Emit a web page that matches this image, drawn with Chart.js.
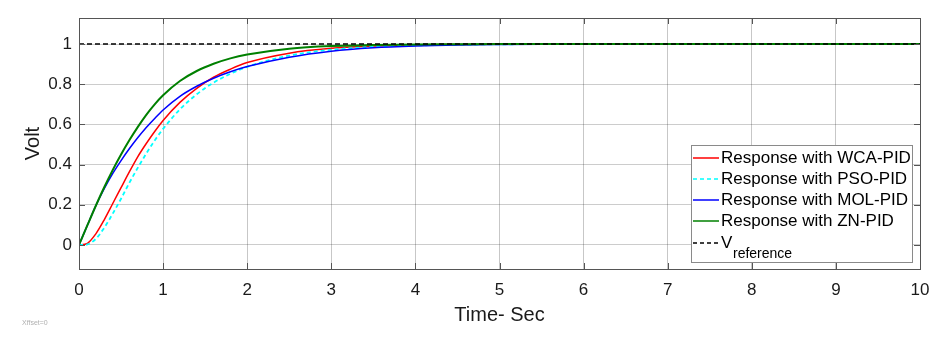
<!DOCTYPE html>
<html>
<head>
<meta charset="utf-8">
<script src="https://cdn.jsdelivr.net/npm/chart.js@4/dist/chart.umd.min.js"></script>
<style>
  html, body { margin: 0; padding: 0; background: #fff; }
  #mycanvas { display: block; }
</style>
</head>
<body>
<canvas id="mycanvas" width="945" height="337"></canvas>
<script>
// values
var timeSec = [0, 0.1, 0.2, 0.3, 0.4, 0.5, 0.6, 0.7, 0.8, 0.9, 1.0, 1.2, 1.4, 1.6, 1.8, 2.0, 2.5, 3.0, 3.5, 4.0, 4.5, 5, 6, 7, 8, 9, 10];
var wcaPid = [0, 0.008, 0.055, 0.125, 0.205, 0.285, 0.365, 0.44, 0.505, 0.565, 0.62, 0.71, 0.78, 0.835, 0.875, 0.908, 0.955, 0.979, 0.99, 0.996, 0.998, 1, 1, 1, 1, 1, 1];
var psoPid = [0, 0.003, 0.03, 0.085, 0.155, 0.23, 0.31, 0.385, 0.455, 0.52, 0.578, 0.675, 0.75, 0.808, 0.852, 0.887, 0.943, 0.972, 0.986, 0.993, 0.997, 0.999, 1, 1, 1, 1, 1];
var molPid = [0, 0.098, 0.195, 0.28, 0.355, 0.42, 0.48, 0.535, 0.585, 0.63, 0.672, 0.74, 0.79, 0.83, 0.862, 0.888, 0.935, 0.965, 0.982, 0.991, 0.996, 0.998, 1, 1, 1, 1, 1];
var znPid = [0, 0.098, 0.195, 0.287, 0.372, 0.45, 0.522, 0.588, 0.648, 0.7, 0.745, 0.816, 0.866, 0.902, 0.929, 0.948, 0.977, 0.99, 0.995, 0.998, 0.999, 1, 1, 1, 1, 1, 1];
var refTime = [0, 10];
var refVolt = [1, 1];

var xTicks = [0, 1, 2, 3, 4, 5, 6, 7, 8, 9, 10];
var yTicks = [0, 0.2, 0.4, 0.6, 0.8, 1];

var seriesLabels = ['Response with WCA-PID', 'Response with PSO-PID', 'Response with MOL-PID', 'Response with ZN-PID'];

function toPoints(xs, ys) {
  return xs.map(function (x, i) { return { x: x, y: ys[i] }; });
}

var FONT = '"Liberation Sans", Arial, sans-serif';

// MATLAB-ish box, inward ticks, legend and the little offset note
var boxPlugin = {
  id: 'boxPlugin',
  afterDraw: function (chart) {
    var ctx = chart.ctx;
    var a = chart.chartArea;
    var xs = chart.scales.x, ys = chart.scales.y;

    // legend
    var lx = 691, ly = 145, lw = 221, lh = 117;
    ctx.save();
    ctx.fillStyle = '#fff';
    ctx.fillRect(lx, ly, lw, lh);
    ctx.strokeStyle = '#8a8a8a';
    ctx.lineWidth = 1;
    ctx.strokeRect(lx + 0.5, ly + 0.5, lw, lh);

    var items = [
      { text: seriesLabels[0], color: '#ff0000', dash: [] , w: 1.5},
      { text: seriesLabels[1], color: '#00ffff', dash: [4, 3], w: 1.5 },
      { text: seriesLabels[2], color: '#0000ff', dash: [], w: 1.5 },
      { text: seriesLabels[3], color: '#008000', dash: [], w: 1.5 }
    ];
    ctx.font = '17px ' + FONT;
    ctx.textBaseline = 'middle';
    ctx.textAlign = 'left';
    items.forEach(function (it, i) {
      var yy = 158 + i * 21;
      ctx.beginPath();
      ctx.setLineDash(it.dash);
      ctx.strokeStyle = it.color;
      ctx.lineWidth = it.w;
      ctx.moveTo(693, yy);
      ctx.lineTo(719, yy);
      ctx.stroke();
      ctx.fillStyle = '#000';
      ctx.fillText(it.text, 721, yy);
    });
    // V reference
    ctx.beginPath();
    ctx.setLineDash([4, 3]);
    ctx.strokeStyle = '#000';
    ctx.lineWidth = 1.5;
    ctx.moveTo(693, 243);
    ctx.lineTo(719, 243);
    ctx.stroke();
    ctx.setLineDash([]);
    ctx.fillStyle = '#000';
    ctx.fillText('V', 721, 243);
    ctx.font = '14px ' + FONT;
    ctx.fillText('reference', 733, 254);

    // axes box
    ctx.strokeStyle = '#555';
    ctx.lineWidth = 1;
    ctx.strokeRect(Math.round(a.left) + 0.5, Math.round(a.top) + 0.5,
      Math.round(a.right - a.left), Math.round(a.bottom - a.top));

    // inward ticks
    ctx.beginPath();
    xTicks.forEach(function (v) {
      var px = Math.round(xs.getPixelForValue(v)) + 0.5;
      ctx.moveTo(px, a.bottom); ctx.lineTo(px, a.bottom - 6);
      ctx.moveTo(px, a.top); ctx.lineTo(px, a.top + 6);
    });
    yTicks.forEach(function (v) {
      var py = Math.round(ys.getPixelForValue(v)) + 0.5;
      ctx.moveTo(a.left, py); ctx.lineTo(a.left + 6, py);
      ctx.moveTo(a.right, py); ctx.lineTo(a.right - 6, py);
    });
    ctx.stroke();

    // tiny note bottom-left
    ctx.font = '7px ' + FONT;
    ctx.fillStyle = '#b0b0b0';
    ctx.textBaseline = 'middle';
    ctx.fillText('Xffset=0', 22, 323);
    ctx.restore();
  }
};

var ctx = document.getElementById('mycanvas').getContext('2d');

var lineChart = new Chart(ctx, {
  type: 'line',
  data: {
    datasets: [
      {
        label: seriesLabels[0],
        data: toPoints(timeSec, wcaPid),
        borderColor: '#ff0000',
        borderWidth: 1.5,
        order: 5
      },
      {
        label: seriesLabels[1],
        data: toPoints(timeSec, psoPid),
        borderColor: '#00ffff',
        borderWidth: 1.8,
        borderDash: [4, 3],
        order: 4
      },
      {
        label: seriesLabels[2],
        data: toPoints(timeSec, molPid),
        borderColor: '#0000ff',
        borderWidth: 1.5,
        order: 3
      },
      {
        label: seriesLabels[3],
        data: toPoints(timeSec, znPid),
        borderColor: '#008000',
        borderWidth: 2,
        order: 2
      },
      {
        label: 'Vreference',
        data: toPoints(refTime, refVolt),
        borderColor: '#000000',
        borderWidth: 1.5,
        borderDash: [5, 3],
        order: 1
      }
    ]
  },
  options: {
    responsive: false,
    animation: false,
    layout: { padding: { top: 18, right: 25, left: 0, bottom: 0 } },
    elements: {
      point: { radius: 0 },
      line: { fill: false, cubicInterpolationMode: 'monotone' }
    },
    plugins: {
      legend: { display: false },
      tooltip: { enabled: false }
    },
    scales: {
      x: {
        type: 'linear',
        min: 0,
        max: 10,
        afterBuildTicks: function (scale) {
          scale.ticks = xTicks.map(function (v) { return { value: v }; });
        },
        afterFit: function (scale) { scale.height = 68; },
        grid: { color: 'rgba(0,0,0,0.22)', lineWidth: 1, drawTicks: false },
        border: { display: false },
        ticks: {
          padding: 11,
          color: '#1a1a1a',
          font: { family: FONT, size: 17 },
          maxRotation: 0
        },
        title: {
          display: true,
          text: 'Time- Sec',
          color: '#1a1a1a',
          font: { family: FONT, size: 20 },
          padding: { top: 0, bottom: 10 }
        }
      },
      y: {
        type: 'linear',
        min: -0.12,
        max: 1.13,
        afterBuildTicks: function (scale) {
          scale.ticks = yTicks.map(function (v) { return { value: v }; });
        },
        afterFit: function (scale) { scale.width = 79; },
        grid: { color: 'rgba(0,0,0,0.2)', lineWidth: 1, drawTicks: false },
        border: { display: false },
        ticks: {
          padding: 7,
          color: '#1a1a1a',
          font: { family: FONT, size: 17 },
          callback: function (v) { return String(Math.round(v * 10) / 10); }
        },
        title: {
          display: true,
          text: 'Volt',
          color: '#1a1a1a',
          font: { family: FONT, size: 20 },
          padding: { top: 21, bottom: 0 }
        }
      }
    }
  },
  plugins: [boxPlugin]
});
</script>
</body>
</html>
